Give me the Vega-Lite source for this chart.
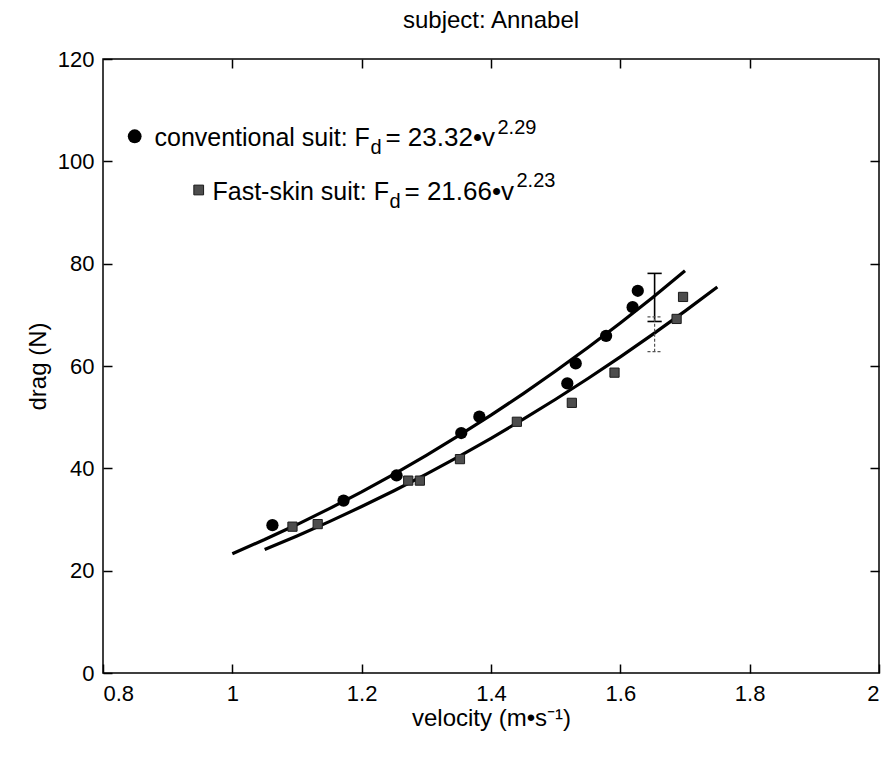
{
  "$schema": "https://vega.github.io/schema/vega-lite/v6.json",
  "autosize": "none",
  "width": 776,
  "height": 614,
  "padding": {"left": 103, "top": 59, "right": 14, "bottom": 88},
  "background": "white",
  "config": {
    "font": "Liberation Sans",
    "view": {"stroke": "black", "strokeWidth": 1.5},
    "axis": {"labelFont": "Liberation Sans", "titleFont": "Liberation Sans", "labelFontSize": 22, "titleFontSize": 24, "titleFontWeight": "normal", "labelColor": "black", "titleColor": "black", "ticks": true, "tickColor": "black", "tickWidth": 1.5, "tickOpacity": 1, "domain": false, "grid": false}
  },
  "title": {"text": "subject: Annabel", "fontSize": 24, "fontWeight": "normal", "font": "Liberation Sans", "color": "black", "offset": 15},
  "datasets": {
    "points": [
      {"v": 1.062, "F": 28.9, "suit": "conventional"},
      {"v": 1.172, "F": 33.7, "suit": "conventional"},
      {"v": 1.254, "F": 38.6, "suit": "conventional"},
      {"v": 1.354, "F": 46.9, "suit": "conventional"},
      {"v": 1.382, "F": 50.1, "suit": "conventional"},
      {"v": 1.518, "F": 56.6, "suit": "conventional"},
      {"v": 1.531, "F": 60.5, "suit": "conventional"},
      {"v": 1.578, "F": 65.9, "suit": "conventional"},
      {"v": 1.619, "F": 71.5, "suit": "conventional"},
      {"v": 1.627, "F": 74.7, "suit": "conventional"},
      {"v": 1.093, "F": 28.6, "suit": "fastskin"},
      {"v": 1.132, "F": 29.1, "suit": "fastskin"},
      {"v": 1.272, "F": 37.6, "suit": "fastskin"},
      {"v": 1.290, "F": 37.6, "suit": "fastskin"},
      {"v": 1.352, "F": 41.8, "suit": "fastskin"},
      {"v": 1.440, "F": 49.1, "suit": "fastskin"},
      {"v": 1.525, "F": 52.8, "suit": "fastskin"},
      {"v": 1.591, "F": 58.7, "suit": "fastskin"},
      {"v": 1.687, "F": 69.2, "suit": "fastskin"},
      {"v": 1.697, "F": 73.5, "suit": "fastskin"}
    ],
    "curves": [
      {"v": 1.00, "F": 23.32, "suit": "conventional"},
      {"v": 1.05, "F": 26.08, "suit": "conventional"},
      {"v": 1.10, "F": 29.01, "suit": "conventional"},
      {"v": 1.15, "F": 32.12, "suit": "conventional"},
      {"v": 1.20, "F": 35.40, "suit": "conventional"},
      {"v": 1.25, "F": 38.87, "suit": "conventional"},
      {"v": 1.30, "F": 42.53, "suit": "conventional"},
      {"v": 1.35, "F": 46.37, "suit": "conventional"},
      {"v": 1.40, "F": 50.39, "suit": "conventional"},
      {"v": 1.45, "F": 54.61, "suit": "conventional"},
      {"v": 1.50, "F": 59.02, "suit": "conventional"},
      {"v": 1.55, "F": 63.62, "suit": "conventional"},
      {"v": 1.60, "F": 68.42, "suit": "conventional"},
      {"v": 1.65, "F": 73.41, "suit": "conventional"},
      {"v": 1.70, "F": 78.61, "suit": "conventional"},
      {"v": 1.05, "F": 24.15, "suit": "fastskin"},
      {"v": 1.10, "F": 26.79, "suit": "fastskin"},
      {"v": 1.15, "F": 29.58, "suit": "fastskin"},
      {"v": 1.20, "F": 32.53, "suit": "fastskin"},
      {"v": 1.25, "F": 35.63, "suit": "fastskin"},
      {"v": 1.30, "F": 38.88, "suit": "fastskin"},
      {"v": 1.35, "F": 42.30, "suit": "fastskin"},
      {"v": 1.40, "F": 45.87, "suit": "fastskin"},
      {"v": 1.45, "F": 49.60, "suit": "fastskin"},
      {"v": 1.50, "F": 53.50, "suit": "fastskin"},
      {"v": 1.55, "F": 57.56, "suit": "fastskin"},
      {"v": 1.60, "F": 61.78, "suit": "fastskin"},
      {"v": 1.65, "F": 66.17, "suit": "fastskin"},
      {"v": 1.70, "F": 70.73, "suit": "fastskin"},
      {"v": 1.75, "F": 75.45, "suit": "fastskin"}
    ],
    "errbars": [
      {"v": 1.653, "v2": 1.653, "lo": 68.7, "hi": 78.1, "suit": "conventional"},
      {"v": 1.642, "v2": 1.664, "lo": 78.1, "hi": 78.1, "suit": "conventional"},
      {"v": 1.642, "v2": 1.664, "lo": 68.7, "hi": 68.7, "suit": "conventional"},
      {"v": 1.653, "v2": 1.653, "lo": 62.8, "hi": 69.6, "suit": "fastskin"},
      {"v": 1.642, "v2": 1.664, "lo": 69.6, "hi": 69.6, "suit": "fastskin"},
      {"v": 1.642, "v2": 1.664, "lo": 62.8, "hi": 62.8, "suit": "fastskin"}
    ],
    "legendMarks": [
      {"v": 0.849, "F": 104.9, "suit": "conventional"},
      {"v": 0.948, "F": 94.4, "suit": "fastskin"}
    ],
    "legendLabel": [
      {"v": 0.8796, "F": 102.9, "text": "conventional suit: F"},
      {"v": 0.9693, "F": 92.4, "text": "Fast-skin suit: F"}
    ],
    "legendFormula": [
      {"v": 1.2368, "F": 102.9, "text": "= 23.32•v"},
      {"v": 1.2662, "F": 92.4, "text": "= 21.66•v"}
    ],
    "legendSmall": [
      {"v": 1.2136, "F": 101.4, "text": "d"},
      {"v": 1.4100, "F": 105.4, "text": "2.29"},
      {"v": 1.2430, "F": 90.9, "text": "d"},
      {"v": 1.4394, "F": 94.9, "text": "2.23"}
    ]
  },
  "resolve": {"axis": {"x": "independent", "y": "independent"}},
  "layer": [
    {
      "data": {"name": "curves"},
      "mark": {"type": "line", "color": "black", "strokeWidth": 3.2},
      "encoding": {
        "x": {"field": "v", "type": "quantitative", "scale": {"domain": [0.8, 2], "nice": false, "zero": false},
              "axis": {"orient": "bottom", "offset": -9, "values": [0.8, 1, 1.2, 1.4, 1.6, 1.8, 2], "tickSize": 9, "labelPadding": 10, "title": "velocity (m•s⁻¹)", "titlePadding": 2, "format": "~g"}},
        "y": {"field": "F", "type": "quantitative", "scale": {"domain": [0, 120], "nice": false},
              "axis": {"orient": "left", "offset": -9, "values": [0, 20, 40, 60, 80, 100, 120], "tickSize": 9, "labelPadding": 9, "title": "drag (N)", "titlePadding": 7}},
        "detail": {"field": "suit"}
      }
    },
    {
      "data": {"name": "errbars"},
      "transform": [{"filter": "datum.suit == 'conventional'"}],
      "mark": {"type": "rule", "color": "black", "strokeWidth": 1.6},
      "encoding": {
        "x": {"field": "v", "type": "quantitative", "axis": {"orient": "top", "offset": -9, "values": [1, 1.2, 1.4, 1.6, 1.8], "tickSize": 9, "labels": false, "title": null}},
        "x2": {"field": "v2"},
        "y": {"field": "lo", "type": "quantitative", "axis": {"orient": "right", "offset": -9, "values": [20, 40, 60, 80, 100], "tickSize": 9, "labels": false, "title": null}},
        "y2": {"field": "hi"}
      }
    },
    {
      "data": {"name": "errbars"},
      "transform": [{"filter": "datum.suit == 'fastskin'"}],
      "mark": {"type": "rule", "color": "#555555", "strokeWidth": 1.2, "strokeDash": [3, 2]},
      "encoding": {
        "x": {"field": "v", "type": "quantitative", "axis": null},
        "x2": {"field": "v2"},
        "y": {"field": "lo", "type": "quantitative", "axis": null},
        "y2": {"field": "hi"}
      }
    },
    {
      "data": {"name": "points"},
      "transform": [{"filter": "datum.suit == 'conventional'"}],
      "mark": {"type": "point", "shape": "circle", "filled": true, "color": "black", "size": 150, "opacity": 1},
      "encoding": {
        "x": {"field": "v", "type": "quantitative", "axis": null},
        "y": {"field": "F", "type": "quantitative", "axis": null}
      }
    },
    {
      "data": {"name": "points"},
      "transform": [{"filter": "datum.suit == 'fastskin'"}],
      "mark": {"type": "point", "shape": "square", "filled": true, "fill": "#4d4d4d", "stroke": "#1a1a1a", "strokeWidth": 1, "size": 85, "opacity": 1},
      "encoding": {
        "x": {"field": "v", "type": "quantitative", "axis": null},
        "y": {"field": "F", "type": "quantitative", "axis": null}
      }
    },
    {
      "data": {"name": "legendMarks"},
      "transform": [{"filter": "datum.suit == 'conventional'"}],
      "mark": {"type": "point", "shape": "circle", "filled": true, "color": "black", "size": 190, "opacity": 1},
      "encoding": {
        "x": {"field": "v", "type": "quantitative", "axis": null},
        "y": {"field": "F", "type": "quantitative", "axis": null}
      }
    },
    {
      "data": {"name": "legendMarks"},
      "transform": [{"filter": "datum.suit == 'fastskin'"}],
      "mark": {"type": "point", "shape": "square", "filled": true, "fill": "#4d4d4d", "stroke": "#1a1a1a", "strokeWidth": 1, "size": 95, "opacity": 1},
      "encoding": {
        "x": {"field": "v", "type": "quantitative", "axis": null},
        "y": {"field": "F", "type": "quantitative", "axis": null}
      }
    },
    {
      "data": {"name": "legendLabel"},
      "mark": {"type": "text", "align": "left", "baseline": "alphabetic", "fontSize": 25, "font": "Liberation Sans", "color": "black"},
      "encoding": {
        "x": {"field": "v", "type": "quantitative", "axis": null},
        "y": {"field": "F", "type": "quantitative", "axis": null},
        "text": {"field": "text"}
      }
    },
    {
      "data": {"name": "legendFormula"},
      "mark": {"type": "text", "align": "left", "baseline": "alphabetic", "fontSize": 26, "font": "Liberation Sans", "color": "black"},
      "encoding": {
        "x": {"field": "v", "type": "quantitative", "axis": null},
        "y": {"field": "F", "type": "quantitative", "axis": null},
        "text": {"field": "text"}
      }
    },
    {
      "data": {"name": "legendSmall"},
      "mark": {"type": "text", "align": "left", "baseline": "alphabetic", "fontSize": 20, "font": "Liberation Sans", "color": "black"},
      "encoding": {
        "x": {"field": "v", "type": "quantitative", "axis": null},
        "y": {"field": "F", "type": "quantitative", "axis": null},
        "text": {"field": "text"}
      }
    }
  ]
}
